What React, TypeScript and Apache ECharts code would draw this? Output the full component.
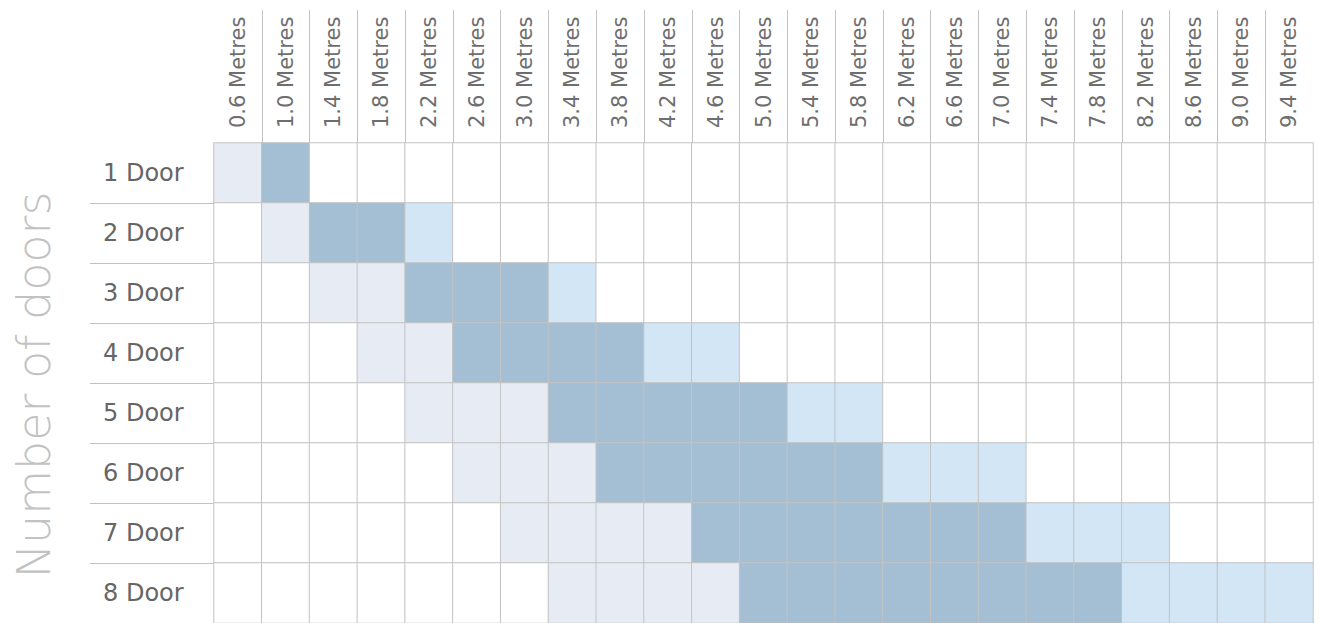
import React, { useEffect, useRef } from "react";
import * as echarts from "echarts";

const colLabels = [
  "0.6 Metres", "1.0 Metres", "1.4 Metres", "1.8 Metres", "2.2 Metres", "2.6 Metres",
  "3.0 Metres", "3.4 Metres", "3.8 Metres", "4.2 Metres", "4.6 Metres", "5.0 Metres",
  "5.4 Metres", "5.8 Metres", "6.2 Metres", "6.6 Metres", "7.0 Metres", "7.4 Metres",
  "7.8 Metres", "8.2 Metres", "8.6 Metres", "9.0 Metres", "9.4 Metres",
];
const rowLabels = ["1 Door", "2 Door", "3 Door", "4 Door", "5 Door", "6 Door", "7 Door", "8 Door"];

// 0 = not available, 1 = possible (grey), 2 = recommended (blue), 3 = extended (light blue)
const door1 = [1, 2, 0, 0, 0, 0, 0, 0, 0, 0, 0, 0, 0, 0, 0, 0, 0, 0, 0, 0, 0, 0, 0];
const door2 = [0, 1, 2, 2, 3, 0, 0, 0, 0, 0, 0, 0, 0, 0, 0, 0, 0, 0, 0, 0, 0, 0, 0];
const door3 = [0, 0, 1, 1, 2, 2, 2, 3, 0, 0, 0, 0, 0, 0, 0, 0, 0, 0, 0, 0, 0, 0, 0];
const door4 = [0, 0, 0, 1, 1, 2, 2, 2, 2, 3, 3, 0, 0, 0, 0, 0, 0, 0, 0, 0, 0, 0, 0];
const door5 = [0, 0, 0, 0, 1, 1, 1, 2, 2, 2, 2, 2, 3, 3, 0, 0, 0, 0, 0, 0, 0, 0, 0];
const door6 = [0, 0, 0, 0, 0, 1, 1, 1, 2, 2, 2, 2, 2, 2, 3, 3, 3, 0, 0, 0, 0, 0, 0];
const door7 = [0, 0, 0, 0, 0, 0, 1, 1, 1, 1, 2, 2, 2, 2, 2, 2, 2, 3, 3, 3, 0, 0, 0];
const door8 = [0, 0, 0, 0, 0, 0, 0, 1, 1, 1, 1, 2, 2, 2, 2, 2, 2, 2, 2, 3, 3, 3, 3];
const rows = [door1, door2, door3, door4, door5, door6, door7, door8];

const levelColors = ["#ffffff", "#e7ecf4", "#a4bed4", "#d2e6f6"];
const lineColor = "#c3c3c3";
const FONT = "DejaVu Sans";

export default function App() {
  const ref = useRef<HTMLDivElement>(null);
  useEffect(() => {
    if (!ref.current) return;
    const chart = echarts.init(ref.current, null, { renderer: "svg" });
    const data: number[][] = [];
    rows.forEach((r, y) => r.forEach((v, x) => data.push([x, y, v])));
    const GL = 214, GW = 1099, GT = 143, GH = 482;
    chart.setOption({
      animation: false,
      backgroundColor: "#ffffff",
      grid: [
        { left: GL, top: GT, width: GW, height: GH },
        { left: GL, top: 10, width: GW, height: GT - 10 },
        { left: 90, top: GT, width: GL - 90, height: GH },
      ],
      xAxis: [
        {
          gridIndex: 0, type: "category", data: colLabels, position: "top",
          axisLine: { show: false }, axisTick: { show: false },
          axisLabel: { rotate: -90, margin: 15, fontSize: 21, color: "#6e6e6e", fontFamily: FONT, interval: 0 },
          splitLine: { show: false },
        },
        {
          gridIndex: 1, type: "category", data: colLabels,
          axisLine: { show: false }, axisTick: { show: false }, axisLabel: { show: false },
          splitLine: { show: true, interval: 0, showMinLine: false, showMaxLine: false, lineStyle: { color: lineColor, width: 1 } },
        },
        { gridIndex: 2, type: "value", show: false },
      ],
      yAxis: [
        {
          gridIndex: 0, type: "category", data: rowLabels, inverse: true,
          axisLine: { show: false }, axisTick: { show: false },
          axisLabel: { align: "left", margin: 111, fontSize: 24, color: "#666666", fontFamily: FONT, interval: 0 },
          splitLine: { show: false },
        },
        { gridIndex: 1, type: "value", show: false },
        {
          gridIndex: 2, type: "category", data: rowLabels, inverse: true,
          axisLine: { show: false }, axisTick: { show: false }, axisLabel: { show: false },
          splitLine: { show: true, interval: 0, showMinLine: false, showMaxLine: false, lineStyle: { color: lineColor, width: 1 } },
        },
      ],
      visualMap: {
        show: false, type: "piecewise", seriesIndex: 0, dimension: 2,
        pieces: levelColors.map((c, i) => ({ value: i, color: c })),
      },
      series: [
        {
          type: "heatmap", xAxisIndex: 0, yAxisIndex: 0, data,
          itemStyle: { borderColor: lineColor, borderWidth: 1 },
          emphasis: { disabled: true },
        },
      ],
      graphic: [
        {
          type: "text", x: 34, y: 385, rotation: Math.PI / 2,
          style: {
            text: "Number of doors", fontFamily: FONT, fontWeight: 200, fontSize: 46,
            fill: "#c2c2c2", align: "center", verticalAlign: "middle",
          },
        },
      ],
    });
    return () => chart.dispose();
  }, []);
  return <div ref={ref} style={{ position: "fixed", left: 0, top: 0, width: 1319, height: 623 }} />;
}
